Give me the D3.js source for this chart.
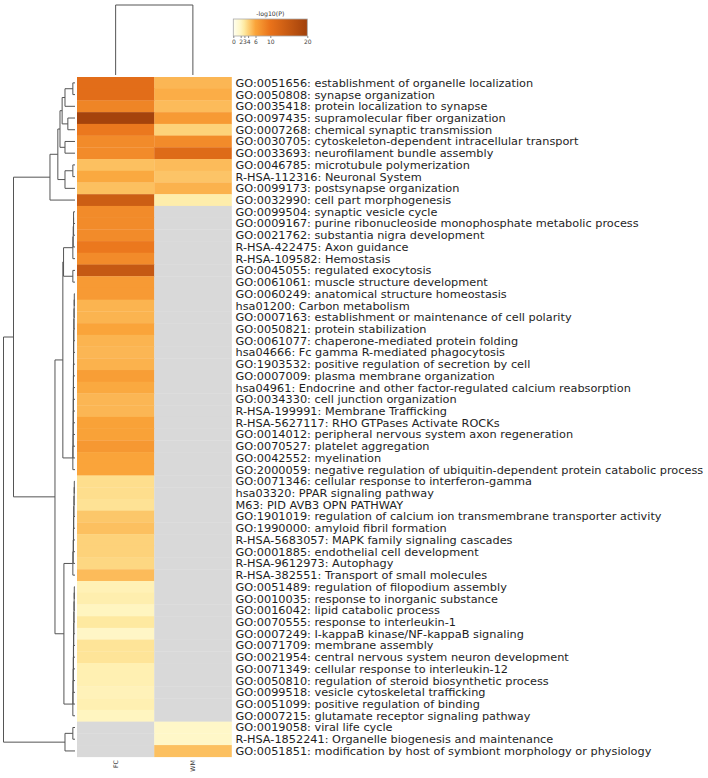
<!DOCTYPE html>
<html><head><meta charset="utf-8">
<script src="https://cdn.jsdelivr.net/npm/d3@7"></script>
<style>body{margin:0;background:#fff} svg{display:block}</style>
</head><body><svg id="c" width="708" height="778"></svg>
<script>
const terms = [
"GO:0051656: establishment of organelle localization",
"GO:0050808: synapse organization",
"GO:0035418: protein localization to synapse",
"GO:0097435: supramolecular fiber organization",
"GO:0007268: chemical synaptic transmission",
"GO:0030705: cytoskeleton-dependent intracellular transport",
"GO:0033693: neurofilament bundle assembly",
"GO:0046785: microtubule polymerization",
"R-HSA-112316: Neuronal System",
"GO:0099173: postsynapse organization",
"GO:0032990: cell part morphogenesis",
"GO:0099504: synaptic vesicle cycle",
"GO:0009167: purine ribonucleoside monophosphate metabolic process",
"GO:0021762: substantia nigra development",
"R-HSA-422475: Axon guidance",
"R-HSA-109582: Hemostasis",
"GO:0045055: regulated exocytosis",
"GO:0061061: muscle structure development",
"GO:0060249: anatomical structure homeostasis",
"hsa01200: Carbon metabolism",
"GO:0007163: establishment or maintenance of cell polarity",
"GO:0050821: protein stabilization",
"GO:0061077: chaperone-mediated protein folding",
"hsa04666: Fc gamma R-mediated phagocytosis",
"GO:1903532: positive regulation of secretion by cell",
"GO:0007009: plasma membrane organization",
"hsa04961: Endocrine and other factor-regulated calcium reabsorption",
"GO:0034330: cell junction organization",
"R-HSA-199991: Membrane Trafficking",
"R-HSA-5627117: RHO GTPases Activate ROCKs",
"GO:0014012: peripheral nervous system axon regeneration",
"GO:0070527: platelet aggregation",
"GO:0042552: myelination",
"GO:2000059: negative regulation of ubiquitin-dependent protein catabolic process",
"GO:0071346: cellular response to interferon-gamma",
"hsa03320: PPAR signaling pathway",
"M63: PID AVB3 OPN PATHWAY",
"GO:1901019: regulation of calcium ion transmembrane transporter activity",
"GO:1990000: amyloid fibril formation",
"R-HSA-5683057: MAPK family signaling cascades",
"GO:0001885: endothelial cell development",
"R-HSA-9612973: Autophagy",
"R-HSA-382551: Transport of small molecules",
"GO:0051489: regulation of filopodium assembly",
"GO:0010035: response to inorganic substance",
"GO:0016042: lipid catabolic process",
"GO:0070555: response to interleukin-1",
"GO:0007249: I-kappaB kinase/NF-kappaB signaling",
"GO:0071709: membrane assembly",
"GO:0021954: central nervous system neuron development",
"GO:0071349: cellular response to interleukin-12",
"GO:0050810: regulation of steroid biosynthetic process",
"GO:0099518: vesicle cytoskeletal trafficking",
"GO:0051099: positive regulation of binding",
"GO:0007215: glutamate receptor signaling pathway",
"GO:0019058: viral life cycle",
"R-HSA-1852241: Organelle biogenesis and maintenance",
"GO:0051851: modification by host of symbiont morphology or physiology"
];
const columns = ["FC", "WM"];
// -log10(P); null = not enriched (grey)
const fcValues = [11, 11, 8.5, 19.5, 9.5, 8, 8, 4.8, 5.8, 4.8, 14,
  8, 8, 8, 9.5, 8, 15, 6.8, 6.8, 5.3, 5.3, 6, 5.3, 5.2, 5.4, 6.5, 5.8, 5.2, 5.2, 6.2, 6.2, 7, 6, 6,
  3.5, 3.5, 3.3, 4.5, 4.8, 4.0, 4.0, 3.8, 5.0,
  2.4, 2.6, 2.1, 3.0, 1.9, 3.2, 3.2, 2.5, 2.5, 2.3, 2.5, 2.1,
  null, null, null];
const wmValues = [5.2, 5.6, 5.0, 6.8, 4.0, 8, 11.5, 5.0, 4.6, 5.4, 2.7,
  null, null, null, null, null, null, null, null, null, null, null, null, null, null, null, null, null, null, null, null, null, null, null,
  null, null, null, null, null, null, null, null, null,
  null, null, null, null, null, null, null, null, null, null, null, null,
  1.8, 1.8, 4.8];
const legendTicks = [0, 2, 3, 4, 6, 10, 20];
const colorDomain = [0, 2, 3, 4, 6, 10, 20];
const colorRange = ["#FFFFF0", "#FFF6C4", "#FEE9A0", "#FDD27A", "#FAA43A", "#E9721A", "#A1400B"];
// linkage: [childA, childB, height]; leaves 0..57, merge k -> node 58+k
const rowMerges = [
[0,1,0.03],[58,2,0.14],[3,4,0.10],[59,60,0.18],[5,6,0.14],[61,62,0.21],[7,8,0.03],[64,9,0.14],[63,65,0.24],[66,10,0.35],
[11,12,0.02],[68,13,0.02],[69,14,0.025],[70,15,0.03],[16,17,0.03],[71,72,0.16],
[18,19,0.01],[74,20,0.012],[75,21,0.014],[76,22,0.016],[77,23,0.018],[78,24,0.02],[79,25,0.02],[80,26,0.022],[81,27,0.022],[82,28,0.024],[83,29,0.024],[84,30,0.026],[85,31,0.026],[86,32,0.028],[87,33,0.03],
[73,88,0.17],
[34,35,0.01],[90,36,0.012],[91,37,0.015],[92,38,0.018],[93,39,0.02],[94,40,0.022],[95,41,0.025],[96,42,0.03],
[43,44,0.01],[98,45,0.012],[99,46,0.014],[100,47,0.016],[101,48,0.018],[102,49,0.02],[103,50,0.022],[104,51,0.024],[105,52,0.026],[106,53,0.028],[107,54,0.03],
[97,108,0.155],[89,109,0.28],[67,110,0.86],
[55,56,0.03],[112,57,0.14],[111,113,1.0]
];
const colMerges = [[0, 1, 1.0]];

const svg = d3.select("#c");
const n = terms.length;
const y = d3.scaleBand().domain(d3.range(n)).range([77, 756.8]);
const x = d3.scaleBand().domain(columns).range([77, 231.5]);
const color = d3.scaleLinear().domain(colorDomain).range(colorRange).clamp(true);
const missing = "#D9D9D9";

const cells = [];
terms.forEach((t, i) => {
  cells.push({row: i, col: "FC", v: fcValues[i]});
  cells.push({row: i, col: "WM", v: wmValues[i]});
});
svg.append("g").selectAll("rect").data(cells).join("rect")
  .attr("x", d => x(d.col)).attr("y", d => y(d.row))
  .attr("width", x.bandwidth()+0.3).attr("height", y.bandwidth()+0.3)
  .attr("fill", d => d.v == null ? missing : color(d.v));

svg.append("g").selectAll("text").data(terms).join("text")
  .attr("x", 235.5).attr("y", (d, i) => y(i) + y.bandwidth()/2).attr("dy", "0.35em")
  .attr("font-family", "DejaVu Sans").attr("font-size", 11.3).attr("fill", "#1e1e1e")
  .text(d => d);

// row dendrogram
const hx = d3.scaleLinear().domain([0, 1]).range([75, 3.5]);
const pos = [], hts = [];
for (let i = 0; i < n; i++) { pos[i] = y(i) + y.bandwidth()/2; hts[i] = 0; }
const rowPaths = [];
rowMerges.forEach((m, k) => {
  const [a, b, h] = m;
  const id = n + k;
  rowPaths.push(`M${hx(hts[a])},${pos[a]}H${hx(h)}V${pos[b]}H${hx(hts[b])}`);
  pos[id] = (pos[a] + pos[b]) / 2; hts[id] = h;
});
svg.append("g").selectAll("path").data(rowPaths).join("path")
  .attr("d", d => d).attr("fill", "none").attr("stroke", "#555").attr("stroke-width", 1);

// column dendrogram
const hy = d3.scaleLinear().domain([0, 1]).range([75, 5]);
const cpos = columns.map(c => x(c) + x.bandwidth()/2), chts = columns.map(() => 0);
const colPaths = [];
colMerges.forEach((m, k) => {
  const [a, b, h] = m;
  colPaths.push(`M${cpos[a]},${hy(chts[a])}V${hy(h)}H${cpos[b]}V${hy(chts[b])}`);
  cpos[columns.length + k] = (cpos[a] + cpos[b]) / 2; chts[columns.length + k] = h;
});
svg.append("g").selectAll("path").data(colPaths).join("path")
  .attr("d", d => d).attr("fill", "none").attr("stroke", "#555").attr("stroke-width", 1);

// column labels
svg.append("g").selectAll("text").data(columns).join("text")
  .attr("transform", d => `translate(${x(d) + x.bandwidth()/2 + 2},760) rotate(-90)`)
  .attr("text-anchor", "end")
  .attr("font-family", "DejaVu Sans").attr("font-size", 6.3).attr("fill", "#333")
  .text(d => d);

// legend
const lx = d3.scaleLinear().domain([0, 20]).range([233.3, 307.3]);
const defs = svg.append("defs");
const grad = defs.append("linearGradient").attr("id", "lg");
grad.selectAll("stop").data(colorDomain).join("stop")
  .attr("offset", d => (d / 20 * 100) + "%").attr("stop-color", d => color(d));
svg.append("rect").attr("x", lx(0)).attr("y", 19).attr("width", lx(20) - lx(0)).attr("height", 17)
  .attr("fill", "url(#lg)").attr("stroke", "#aaa").attr("stroke-width", 0.8);
svg.append("text").attr("x", (lx(0) + lx(20)) / 2).attr("y", 16).attr("text-anchor", "middle")
  .attr("font-family", "DejaVu Sans").attr("font-size", 6.2).attr("fill", "#333").text("-log10(P)");
const lg = svg.append("g").attr("transform", "translate(0,36)")
  .call(d3.axisBottom(lx).tickValues(legendTicks).tickSize(2).tickPadding(2).tickFormat(d3.format("d")));
lg.select(".domain").remove();
lg.selectAll("line").attr("stroke", "#888");
lg.selectAll("text").attr("font-family", "DejaVu Sans").attr("font-size", 6).attr("fill", "#444");
</script></body></html>
